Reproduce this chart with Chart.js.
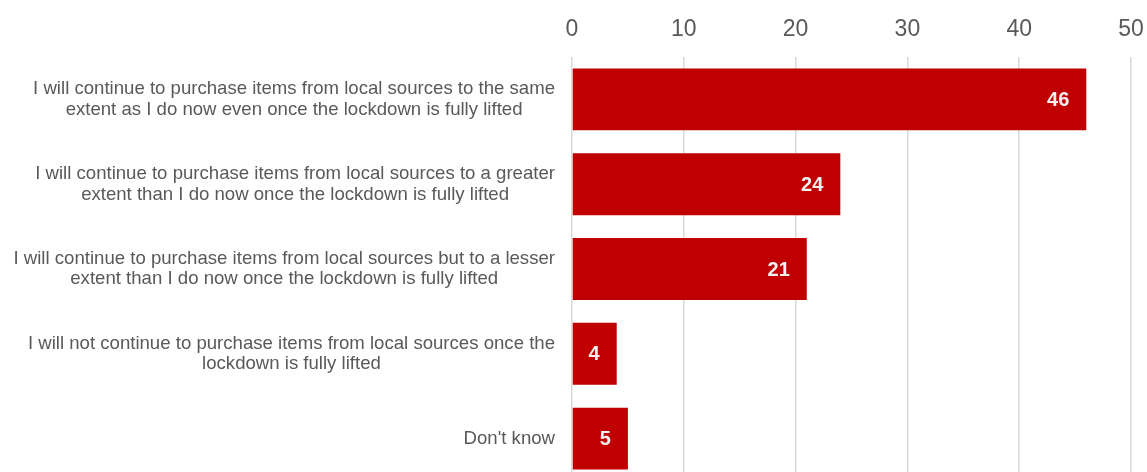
<!DOCTYPE html>
<html>
<head>
<meta charset="utf-8">
<script src="https://cdn.jsdelivr.net/npm/chart.js@4/dist/chart.umd.min.js"></script>
<style>
  html, body { margin: 0; padding: 0; background: #fff; overflow: hidden; }
  #wrap { width: 1147px; height: 481px; }
</style>
</head>
<body>
<div id="wrap"><canvas id="chart" width="1147" height="481"></canvas></div>
<script>
  // Category labels (each entry is one label, split into its lines)
  const categories = [
    ['I will continue to purchase items from local sources to the same', 'extent as I do now even once the lockdown is fully lifted'],
    ['I will continue to purchase items from local sources to a greater', 'extent than I do now once the lockdown is fully lifted'],
    ['I will continue to purchase items from local sources but to a lesser', 'extent than I do now once the lockdown is fully lifted'],
    ['I will not continue to purchase items from local sources once the', 'lockdown is fully lifted'],
    ["Don't know"]
  ];
  const values = [46, 24, 21, 4, 5];
  const xTicks = [0, 10, 20, 30, 40, 50];

  const FONT = '"Liberation Sans", Arial, sans-serif';
  const GRAY_TEXT = '#595959';

  // Draws the category labels: each block right-aligned, lines centred within the block
  const categoryLabels = {
    id: 'categoryLabels',
    afterDraw(chart) {
      const ctx = chart.ctx;
      const yScale = chart.scales.y;
      const right = chart.chartArea.left - 17;
      const lineH = 20.5;
      ctx.save();
      ctx.font = '18.6px ' + FONT;
      ctx.fillStyle = GRAY_TEXT;
      ctx.textAlign = 'center';
      ctx.textBaseline = 'middle';
      categories.forEach((lines, i) => {
        const widest = Math.max(...lines.map(l => ctx.measureText(l).width));
        const cx = right - widest / 2;
        const cy = yScale.getPixelForTick(i);
        const top = cy - (lines.length - 1) * lineH / 2;
        lines.forEach((l, j) => ctx.fillText(l, cx, top + j * lineH));
      });
      ctx.restore();
    }
  };

  // Value labels inside the end of each bar
  const valueLabels = {
    id: 'valueLabels',
    afterDatasetsDraw(chart) {
      const ctx = chart.ctx;
      const meta = chart.getDatasetMeta(0);
      ctx.save();
      ctx.font = 'bold 20px ' + FONT;
      ctx.fillStyle = '#f2f2f2';
      ctx.textAlign = 'right';
      ctx.textBaseline = 'middle';
      meta.data.forEach((bar, i) => {
        ctx.fillText(String(values[i]), bar.x - 17, bar.y + 1);
      });
      ctx.restore();
    }
  };

  new Chart(document.getElementById('chart'), {
    type: 'bar',
    data: {
      labels: categories.map(c => c.join(' ')),
      datasets: [{
        data: values,
        backgroundColor: '#C00000',
        borderWidth: 0,
        barPercentage: 0.73,
        categoryPercentage: 1
      }]
    },
    options: {
      indexAxis: 'y',
      responsive: false,
      animation: false,
      layout: { padding: 0 },
      plugins: {
        legend: { display: false },
        tooltip: { enabled: false }
      },
      scales: {
        x: {
          position: 'top',
          min: 0,
          max: 50,
          afterBuildTicks: scale => { scale.ticks = xTicks.map(v => ({ value: v })); },
          afterFit: scale => {
            scale.height = 57;
            scale.paddingLeft = 0;
            scale.paddingRight = 16;
          },
          grid: { color: '#d9d9d9', lineWidth: 1.5, drawTicks: false },
          border: { display: false },
          ticks: { color: GRAY_TEXT, font: { family: FONT, size: 23 }, padding: 14 }
        },
        y: {
          afterFit: scale => { scale.width = 572; },
          grid: { display: false },
          border: { display: false },
          ticks: { display: false }
        }
      }
    },
    plugins: [categoryLabels, valueLabels]
  });
</script>
</body>
</html>
